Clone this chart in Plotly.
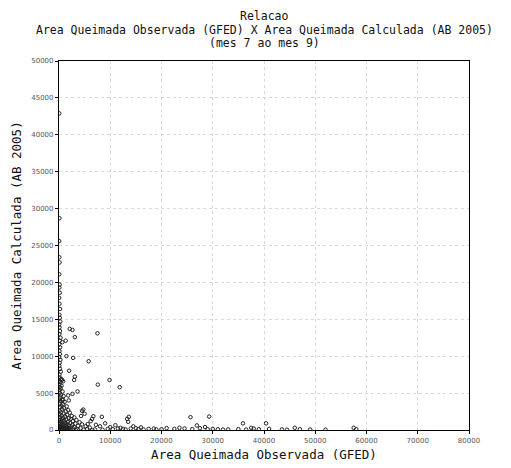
import plotly.graph_objects as go

# (x = Area Queimada Observada (GFED), y = Area Queimada Calculada (AB 2005))
pts_axis = [
    (50,42900),(80,28700),(30,25600),(60,23400),(100,22700),(40,21100),(120,19700),(70,19300),
    (150,18600),(30,17900),(90,17100),(200,16400),(60,15600),(140,15200),(250,14700),(40,14300),
    (110,13900),(180,13400),(70,13000),(300,12500),(130,12100),(50,11600),(220,11200),(90,10700),
    (160,10300),(40,9900),(270,9500),(110,9100),(60,8700),(200,8300),(350,7900),(80,7500),
    (150,7100),(420,6900),(30,6700),(250,6500),(600,6800),(800,6600),(100,6200),(500,6000),
    (180,5800),(320,5600),(60,5400),(700,5200),(140,5000),(400,4800),(900,4600),(230,4400),
    (50,4200),(600,4100),(300,3900),(1100,3800),(120,3600),(800,3500),(450,3300),(1500,3200),
    (200,3100),(1000,2950),(650,2800),(1800,2700),(100,2600),(1300,2500),(350,2400),(2100,2350),
    (900,2250),(50,2150),(1600,2050),(500,1950),(2500,1900),(1200,1850),(250,1750),(3000,1700),
    (800,1650),(1900,1600),(150,1550),(2300,1500),(600,1450),(1400,1400),(3400,1350),(50,1300),
    (1000,1250),(2700,1200),(400,1150),(1700,1100),(4000,1050),(200,1000),(1200,980),(2200,940),
    (700,900),(3200,860),(100,820),(1500,790),(4500,760),(500,720),(2600,690),(900,660),
    (1900,630),(300,600),(3700,570),(1300,540),(5200,510),(50,480),(2400,460),(800,430),
    (1600,400),(3000,380),(400,350),(6000,330),(1100,300),(2000,280),(150,260),(4200,240),
    (700,220),(1400,200),(2800,180),(300,160),(5500,150),(900,130),(1800,110),(3600,100),
    (100,90),(7000,80),(600,70),(2300,60),(1200,50),(4800,40),(250,35),(8500,30),
    (1600,25),(3300,20),(500,15),(6500,10),(950,8),(2000,5),(50,3),
]
pts_scatter = [
    (7500,13100),(2100,13700),(2630,13560),(3090,12580),(1300,12100),(660,11900),(1450,10000),
    (2760,9770),(5790,9320),(1970,8030),(3090,7225),(2960,6780),(9870,6780),(7570,6150),
    (11840,5800),(3620,5220),(2630,4900),(1780,4680),(790,4100),(1910,4010),(4740,2765),
    (4500,2600),(6710,1870),(6450,1500),(8360,1780),(13620,1780),(13300,1500),(13500,1100),
    (25660,1740),(29300,1820),(26900,620),(35900,900),(40400,900),(5000,2200),(4300,1900),
    (5600,800),(6200,1200),(7200,700),(8000,500),(9000,900),(10000,400),(11000,650),
    (12000,300),(14500,500),(15000,250),(16000,350),(17500,150),(18500,200),(20000,100),
    (21000,250),(22500,150),(23500,300),(24500,200),(27500,250),(28500,400),(30000,150),
    (31000,100),(33000,80),(35000,120),(37500,300),(38000,200),(39000,100),(41000,150),
    (43500,80),(46000,300),(47000,100),(49000,60),(52000,50),(57500,300),(58000,100),
    (9500,150),(10500,100),(11500,200),(12500,150),(13000,80),(14000,200),(15500,120),
    (16500,60),(19000,70),(26000,120),(29000,100),(32000,60),(36500,60),(44500,40),
]
gfed = [p[0] for p in pts_axis + pts_scatter]
ab2005 = [p[1] for p in pts_axis + pts_scatter]

x_ticks = [0, 10000, 20000, 30000, 40000, 50000, 60000, 70000, 80000]
y_ticks = [0, 5000, 10000, 15000, 20000, 25000, 30000, 35000, 40000, 45000, 50000]

title_lines = [
    "Relacao",
    "Area Queimada Observada (GFED) X Area Queimada Calculada (AB 2005)",
    "(mes 7 ao mes 9)",
]

fig = go.Figure(go.Scatter(
    x=gfed, y=ab2005, mode="markers",
    marker=dict(symbol="circle-open", size=3.5, color="#222222", line=dict(width=1)),
    showlegend=False,
))

font_main = "DejaVu Sans Mono"
# the page body offsets the figure by 8px; sized so the plot lands at 59..469 x 61..430
fig.update_layout(
    width=503, height=460,
    margin=dict(l=51, r=42, t=53, b=38),
    paper_bgcolor="white", plot_bgcolor="white",
    font=dict(family=font_main, color="#111111"),
)
for line, shift in zip(title_lines, [45, 31.5, 18]):
    fig.add_annotation(
        text=line, xref="paper", yref="paper", x=0.5, y=1, xanchor="center",
        yanchor="middle", yshift=shift, showarrow=False,
        font=dict(size=11.5, family=font_main, color="#111111"),
    )

fig.update_xaxes(
    range=[0, 80000], tickvals=x_ticks, ticktext=[str(v) for v in x_ticks],
    showgrid=True, gridcolor="#dadada", griddash="dot", gridwidth=1,
    showline=True, linecolor="black", linewidth=1.2, mirror=True,
    ticks="outside", ticklen=3, tickcolor="black",
    tickfont=dict(size=7, family="DejaVu Sans", color="#555555"), zeroline=False, automargin=False,
    title=dict(text="Area Queimada Observada (GFED)", font=dict(size=12.5), standoff=6),
)
fig.update_yaxes(
    range=[0, 50000], tickvals=y_ticks, ticktext=[str(v) for v in y_ticks],
    showgrid=True, gridcolor="#dadada", griddash="dot", gridwidth=1,
    showline=True, linecolor="black", linewidth=1.2, mirror=True,
    ticks="outside", ticklen=3, tickcolor="black",
    tickfont=dict(size=7, family="DejaVu Sans", color="#555555"), zeroline=False, automargin=False,
    title=dict(text="Area Queimada Calculada (AB 2005)", font=dict(size=12.5), standoff=6),
)

fig.write_html("out.html")
